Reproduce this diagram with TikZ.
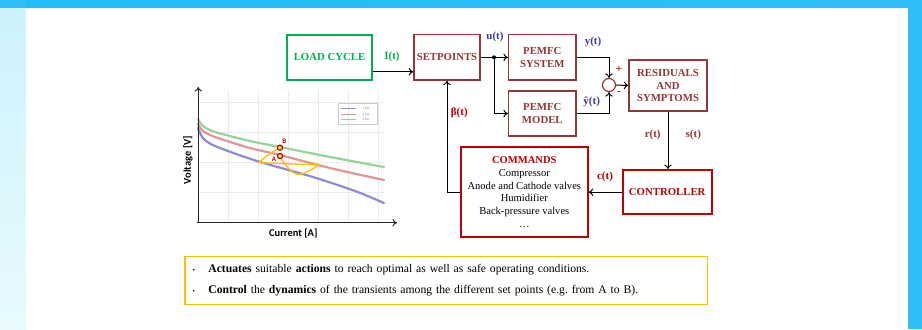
\documentclass[tikz,border=0pt]{standalone}
\usepackage{fontspec}
\setmainfont{Liberation Serif}
\newfontfamily\chartfont{Carlito}
\usetikzlibrary{positioning,arrows.meta}

\definecolor{loadgreen}{HTML}{00B050}
\definecolor{boxred}{HTML}{953735}
\definecolor{ctrlred}{HTML}{C00000}
\definecolor{sigblue}{RGB}{60,60,160}
\definecolor{noteyellow}{HTML}{FFC000}
\definecolor{frameblue}{HTML}{2EBEF8}
\definecolor{framelightA}{HTML}{CDF2FC}
\definecolor{framelightB}{HTML}{E8FAFE}
\definecolor{topblueA}{HTML}{22BDF7}
\definecolor{topblueB}{HTML}{A8E6FA}
\definecolor{curvegreen}{RGB}{150,212,150}
\definecolor{curvered}{RGB}{222,150,150}
\definecolor{curveblue}{RGB}{140,140,212}

\tikzset{
  block/.style={draw=boxred, line width=1.5bp, text=boxred, align=center,
    font=\bfseries\fontsize{10.8}{12.8}\selectfont, inner sep=2bp, minimum height=45.3bp},
  loadbox/.style={block, draw=loadgreen, text=loadgreen, line width=2bp},
  ctrlbox/.style={block, draw=ctrlred, text=ctrlred, line width=2bp},
  cmdbox/.style={draw=ctrlred, line width=2bp, align=center, inner sep=2bp,
    font=\fontsize{10.6}{12.7}\selectfont, minimum width=126.7bp, minimum height=89.3bp},
  sumnode/.style={circle, draw=boxred, line width=1.2bp, minimum size=13bp, inner sep=0pt},
  siglabel/.style={font=\bfseries\fontsize{11}{12}\selectfont},
  link/.style={->, line width=1bp},
  gridline/.style={black!8, line width=0.5bp},
  curve/.style={line width=2.2bp, line cap=round},
  axislabel/.style={font=\chartfont\bfseries\fontsize{10.5}{12}\selectfont},
  ptmark/.style={draw=ctrlred, fill=yellow!70, line width=1.2bp},
  ptlabel/.style={font=\chartfont\bfseries\fontsize{7}{8}\selectfont, text=ctrlred},
  notebox/.style={draw=noteyellow, line width=1.5bp, minimum width=522.3bp, minimum height=47.6bp,
    text width=506.9bp, inner xsep=7.7bp, align=left, font=\fontsize{11.7}{21}\selectfont}
}

\newcommand{\notebullet}{\makebox[15.6bp][l]{\fontsize{7}{7}\selectfont\textbullet}}

\begin{document}
\begin{tikzpicture}[x=1bp, y=-1bp, >={To[length=4.5bp,width=7.5bp]}]
    \useasboundingbox (0,0) rectangle (922,329);

    % frame
    \fill[frameblue] (0,0) rectangle (922,329);
    \shade[top color=framelightA, bottom color=framelightB] (0,8) rectangle (26,329);
    \shade[left color=topblueA, middle color=topblueB, right color=frameblue] (26,0) rectangle (922,8);
    \fill[white] (26,8) rectangle (908,329);

    % blocks
    \node[loadbox, minimum width=85.6bp] (load) at (329.5,57.3) {LOAD CYCLE};
    \node[block, minimum width=66bp] (setp) at (447,57.3) {SETPOINTS};
    \node[block, minimum width=67.3bp] (sys) at (542.3,57.3) {PEMFC\\SYSTEM};
    \node[block, minimum width=67.3bp, minimum height=45bp] (model) at (542.3,113.5) {PEMFC\\MODEL};
    \node[sumnode] (sum) at (609,85) {};
    \node[block, minimum width=77.7bp, minimum height=51bp] (res) at (668,85.5) {RESIDUALS\\AND\\SYMPTOMS};
    \node[ctrlbox, minimum width=89bp, minimum height=44.3bp] (ctrl) at (667.2,192.2) {CONTROLLER};
    \node[cmdbox] (cmd) at (524.3,192) {\textbf{\textcolor{ctrlred}{COMMANDS}}\\Compressor\\Anode and Cathode valves\\Humidifier\\Back-pressure valves\\\dots};
    \coordinate (split) at (494,57.3);

    % connectors
    \draw[link] ([yshift=-14.4bp]load.east) -- ([yshift=-14.4bp]setp.west);
    \draw[line width=1bp] (setp.east) -- (split);
    \fill (split) circle (2);
    \draw[link] (split) -- (sys.west);
    \draw[link] (split) |- (model.west);
    \draw[link] (sys.east) -| (sum.north);
    \draw[link] (model.east) -| (sum.south);
    \draw[link] (sum.east) -- (res.west);
    \draw[link] (res.south) -- (res.south |- ctrl.north);
    \draw[link] (ctrl.west) -- (cmd.east |- ctrl.west);
    \draw[link] (cmd.west) -| (setp.south);

    % signal labels
    \node[siglabel, text=loadgreen] (it) at (392,56.7) {I(t)};
    \node[siglabel, text=sigblue] (ut) at (495,37) {u(t)};
    \node[siglabel, text=sigblue] (yt) at (593,41.7) {y(t)};
    \node[siglabel, text=sigblue] (yhat) at (591.7,101.7) {ŷ(t)};
    \node[siglabel, text=ctrlred] (plus) at (619,69) {+};
    \node[siglabel, text=ctrlred] (minus) at (619,92.7) {-};
    \node[siglabel, text=boxred] (rt) at (652.7,135) {r(t)};
    \node[siglabel, text=boxred] (st) at (693.3,135) {s(t)};
    \node[siglabel, text=ctrlred] (ct) at (605,177.3) {c(t)};
    \node[siglabel, text=ctrlred] (bt) at (459.3,112.7) {β(t)};

    % polarization chart
    \foreach \gx in {228,258,...,378}
        \draw[gridline] (\gx,90) -- (\gx,222.7);
    \foreach \gy in {102.7,132.7,162.7,192.7}
        \draw[gridline] (198,\gy) -- (384,\gy);
    \draw[curve, curvegreen] plot[smooth] coordinates {(198,119) (203,126) (215,132) (250,141) (280,147) (330,157) (384,167)};
    \draw[curve, curvered] plot[smooth] coordinates {(198,124) (203,131) (215,137) (250,148) (280,155) (330,168) (384,180)};
    \draw[curve, curveblue] plot[smooth] coordinates {(198,128) (203,138) (215,146) (257,161) (313,177) (355,191) (384,203)};
    \draw[->, line width=1bp, black!85] (198.3,222.7) -- (198.3,87);
    \draw[->, line width=1bp, black!85] (197,222.7) -- (397,222.7);
    \node[axislabel, rotate=90] (vlabel) at (188,160) {Voltage [V]};
    \node[axislabel] (clabel) at (293.3,233.3) {Current [A]};

    % legend
    \draw[black!20, line width=0.4bp] (338,103) rectangle (377,124);
    \foreach \ly/\lc/\lt in {108.5/curveblue/1 bar, 114/curvered/2 bar, 119.5/curvegreen/4 bar} {
        \draw[\lc, line width=1bp] (341,\ly) -- (356,\ly);
        \node[font=\chartfont\fontsize{3.5}{4}\selectfont, text=black!45] at (366,\ly) {\lt};
    }

    % transient between set points
    \coordinate (ptB) at (280,147.7);
    \coordinate (ptA) at (280,156);
    \draw[noteyellow, line width=1.3bp] (ptB) .. controls (272,152) and (263,158) .. (259,162.7)
        -- (318.3,165) .. controls (312,170) and (302,175) .. (296.7,174.3)
        .. controls (290,172) and (283,162) .. (ptA);
    \draw[ptmark] (ptB) circle (2.6);
    \draw[ptmark] (ptA) circle (2.6);
    \node[ptlabel] (lblB) at (284.3,141) {B};
    \node[ptlabel] (lblA) at (274,159.3) {A};

    % notes
    \node[notebox] (notes) at (446.2,280.5) {\notebullet\textbf{Actuates} suitable \textbf{actions} to reach optimal as well as safe operating conditions.\\
        \notebullet\textbf{Control} the \textbf{dynamics} of the transients among the different set points (e.g.\ from A to B).};

\end{tikzpicture}
\end{document}
